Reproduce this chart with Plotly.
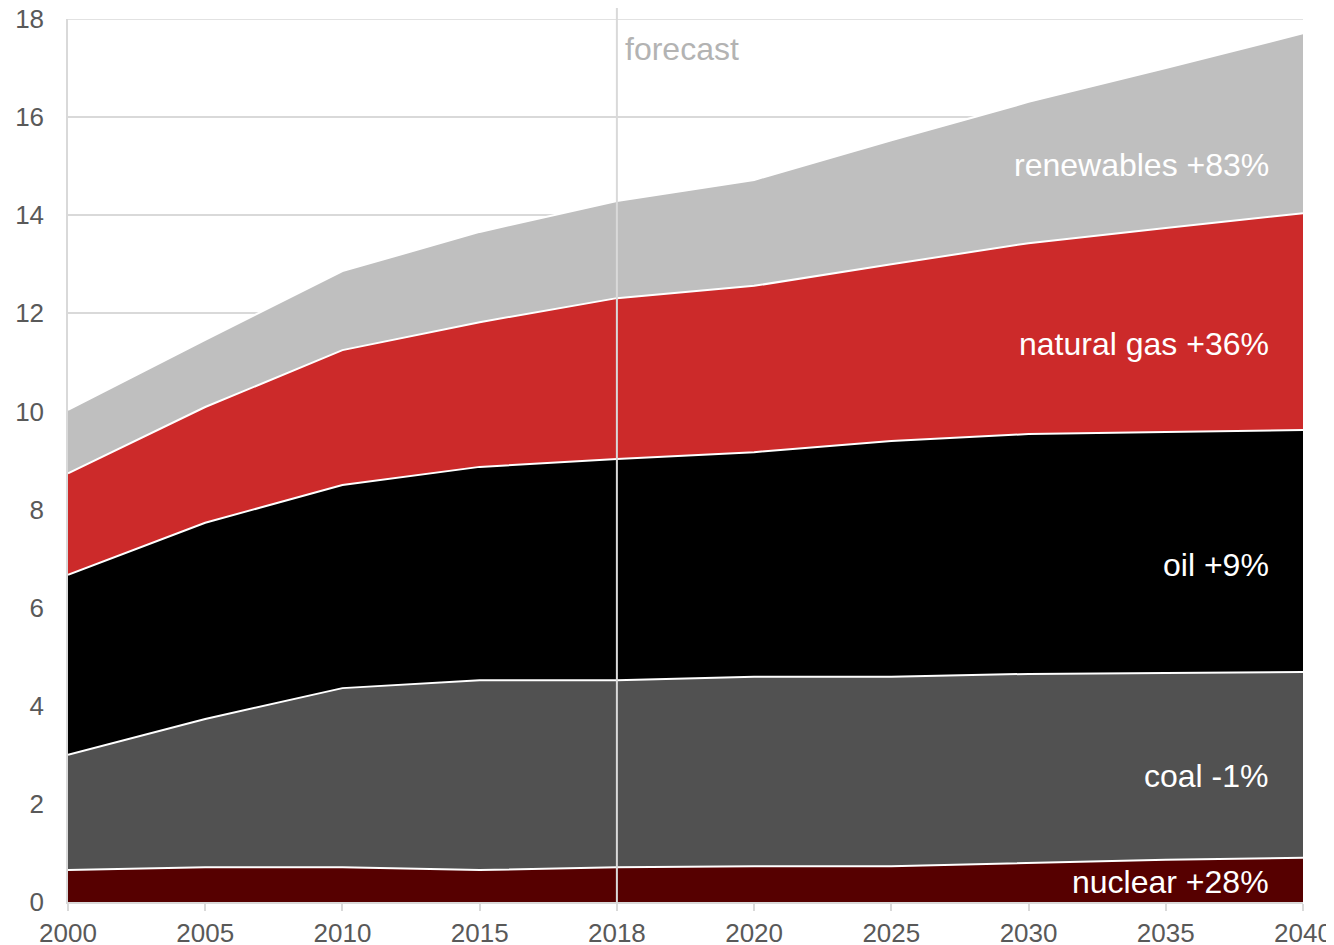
import plotly.graph_objects as go

years = ["2000", "2005", "2010", "2015", "2018", "2020", "2025", "2030", "2035", "2040"]
nuclear = [0.65, 0.71, 0.71, 0.65, 0.71, 0.73, 0.73, 0.79, 0.86, 0.90]
coal = [2.35, 3.02, 3.65, 3.87, 3.81, 3.86, 3.86, 3.86, 3.81, 3.79]
oil = [3.67, 4.00, 4.14, 4.35, 4.51, 4.58, 4.81, 4.89, 4.91, 4.93]
natural_gas = [2.07, 2.36, 2.75, 2.95, 3.28, 3.39, 3.60, 3.89, 4.16, 4.42]
renewables = [1.29, 1.37, 1.61, 1.84, 1.98, 2.16, 2.53, 2.88, 3.26, 3.67]

series = [
    ("nuclear", nuclear, "#560000"),
    ("coal", coal, "#515151"),
    ("oil", oil, "#000000"),
    ("natural gas", natural_gas, "#cc2a2a"),
    ("renewables", renewables, "#bfbfbf"),
]
labels = [
    ("renewables +83%", 15.02),
    ("natural gas +36%", 11.37),
    ("oil +9%", 6.87),
    ("coal -1%", 2.57),
    ("nuclear +28%", 0.41),
]

fig = go.Figure()
for name, vals, color in series:
    fig.add_trace(go.Scatter(
        x=years, y=vals, name=name, mode="lines", stackgroup="one",
        line=dict(color="white", width=2), fillcolor=color,
        hoverinfo="x+y+name",
    ))

font = "Liberation Sans, Arial, sans-serif"
for text, yv in labels:
    fig.add_annotation(x=0.9742, xref="paper", y=yv, yref="y", text=text,
                       showarrow=False, xanchor="right", yanchor="middle",
                       font=dict(family=font, size=32, color="white"))

fig.add_annotation(x=0.4497, xref="paper", y=17.39, yref="y", text="forecast",
                   showarrow=False, xanchor="left", yanchor="middle",
                   font=dict(family=font, size=32, color="#b3b3b3"))

# top gridline at 18 (plotly omits grid at the range edge)
fig.add_shape(type="line", xref="paper", yref="y", x0=0, x1=1, y0=18, y1=18,
              line=dict(color="#d9d9d9", width=1.5), layer="below")

fig.add_shape(type="line", xref="x", yref="paper", x0=4, x1=4, y0=0, y1=1.0125,
              line=dict(color="#d9d9d9", width=2), layer="above")

fig.update_layout(
    width=1326, height=937,
    margin=dict(l=60, r=31, t=11, b=43),
    paper_bgcolor="white", plot_bgcolor="white",
    showlegend=False,
    font=dict(family=font, size=26, color="#595959"),
)
fig.update_xaxes(
    type="category", range=[0, 9], showgrid=False, automargin=False,
    showline=True, linecolor="#d9d9d9", linewidth=1.5,
    ticks="outside", ticklen=7, tickcolor="#d9d9d9", tickwidth=1.5,
    tickfont=dict(size=26, color="#595959"), ticklabeloverflow="allow",
)
fig.update_yaxes(
    range=[0, 18], dtick=2, showgrid=True, gridcolor="#d9d9d9", gridwidth=1.5,
    showline=True, linecolor="#d9d9d9", linewidth=1.5, zeroline=False,
    ticks="", ticklabelstandoff=17, automargin=False,
    tickfont=dict(size=26, color="#595959"), ticklabeloverflow="allow",
)

fig.write_html("out.html")
